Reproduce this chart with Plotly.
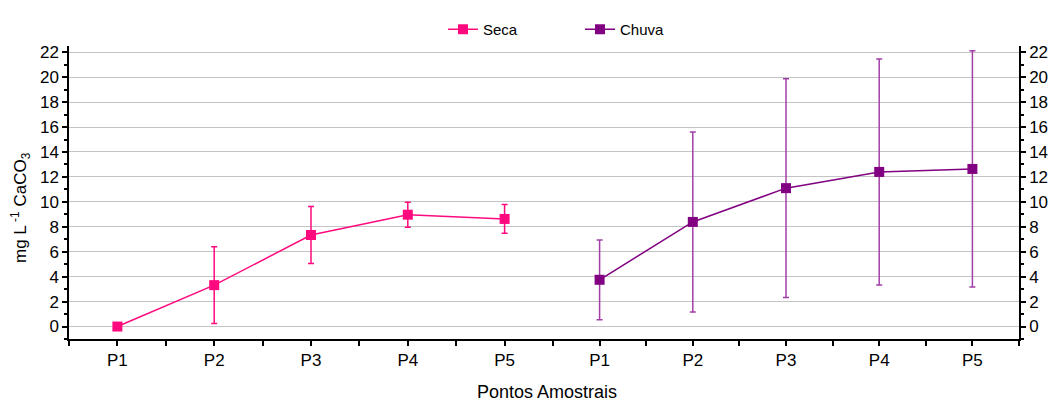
import plotly.graph_objects as go

categories = ["P1", "P2", "P3", "P4", "P5"]
seca_vals = [0.0, 3.32, 7.34, 8.97, 8.63]
seca_err = [0.0, 3.07, 2.29, 1.0, 1.15]
chuva_vals = [3.75, 8.39, 11.1, 12.4, 12.64]
chuva_err = [3.2, 7.22, 8.77, 9.06, 9.47]
y_ticks = list(range(0, 23, 2))

xpos = list(range(1, len(categories) + 1))
SECA = "#FF0A7E"
CHUVA = "#820082"
FONT = "Arial, Liberation Sans, sans-serif"

fig = go.Figure()
fig.add_trace(go.Scatter(
    x=xpos, y=seca_vals, name="Seca", mode="lines+markers",
    line=dict(color=SECA, width=1.5),
    marker=dict(symbol="square", size=10, color=SECA),
    error_y=dict(type="data", array=seca_err, color=SECA, thickness=1.5, width=3),
    xaxis="x", yaxis="y",
))
fig.add_trace(go.Scatter(
    x=xpos, y=chuva_vals, name="Chuva", mode="lines+markers",
    line=dict(color=CHUVA, width=1.5),
    marker=dict(symbol="square", size=10, color=CHUVA),
    error_y=dict(type="data", array=chuva_err, color="#a23fa6", thickness=1.5, width=3),
    xaxis="x2", yaxis="y2",
))

split = (553 - 69) / 950
common_x = dict(
    tickvals=xpos, ticktext=categories, range=[0.5, 5.5],
    showline=True, linecolor="black", linewidth=1.5,
    ticks="outside", ticklen=5, tickwidth=1.5, tickcolor="black",
    minor=dict(tickvals=[0.5, 1.5, 2.5, 3.5, 4.5, 5.5], ticks="outside", ticklen=5, tickwidth=1.5, tickcolor="black"),
    showgrid=False, zeroline=False,
    tickfont=dict(family=FONT, size=17, color="black"),
)
common_y = dict(
    range=[-1, 22.5], tickvals=y_ticks,
    showline=True, linecolor="black", linewidth=1.5,
    ticks="outside", ticklen=5, tickwidth=1.5, tickcolor="black",
    minor=dict(dtick=1, tick0=1, ticks="outside", ticklen=3, tickwidth=1.5, tickcolor="black", showgrid=False),
    showgrid=True, gridcolor="#c4c4c4", gridwidth=1, zeroline=False,
    tickfont=dict(family=FONT, size=17, color="black"),
    domain=[0, 1],
)

fig.update_layout(
    width=1061, height=401,
    margin=dict(l=69, r=42, t=46, b=62),
    paper_bgcolor="white", plot_bgcolor="white",
    font=dict(family=FONT, color="black"),
    xaxis=dict(domain=[0, split], anchor="y", **common_x),
    xaxis2=dict(domain=[split, 1], anchor="y2", **common_x),
    yaxis=dict(anchor="x", side="left", **common_y),
    yaxis2=dict(anchor="x2", side="right", **common_y),
    showlegend=True,
    legend=dict(
        orientation="h", x=(443 - 69) / 950, xanchor="left", y=1.0, yanchor="bottom",
        font=dict(family=FONT, size=15, color="black"),
        entrywidth=92, entrywidthmode="pixels", bgcolor="rgba(0,0,0,0)",
    ),
    annotations=[
        dict(text="mg L<sup> -1</sup> CaCO<sub>3</sub>", textangle=-90,
             xref="paper", yref="paper", x=(20 - 69) / 950, y=(339 - 208) / 293,
             xanchor="center", yanchor="middle", showarrow=False,
             font=dict(family=FONT, size=17, color="black")),
        dict(text="Pontos Amostrais",
             xref="paper", yref="paper", x=(546.7 - 69) / 950, y=(339 - 392) / 293,
             xanchor="center", yanchor="middle", showarrow=False,
             font=dict(family=FONT, size=18, color="black")),
    ],
)

fig.write_html("out.html")
